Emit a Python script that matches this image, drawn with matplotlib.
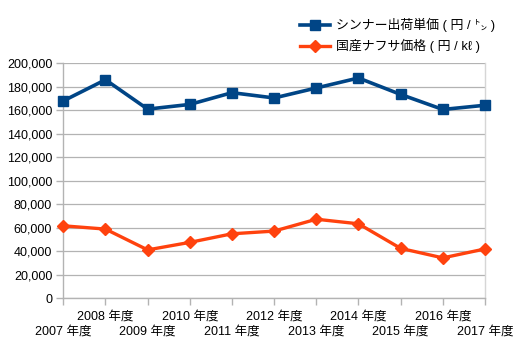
import matplotlib
matplotlib.use("Agg")
import matplotlib.pyplot as plt
from matplotlib.ticker import FuncFormatter

FONTS = ["Liberation Sans", "Noto Sans CJK JP", "DejaVu Sans"]
plt.rcParams["font.family"] = FONTS

BLUE = "#004586"
ORANGE = "#ff420e"
GRID = "#b3b3b3"

YEARS = [2007, 2008, 2009, 2010, 2011, 2012, 2013, 2014, 2015, 2016, 2017]
THINNER = [168000, 186000, 161000, 165000, 175000, 170500, 179000, 187500, 173500, 160700, 164300]
NAPHTHA = [61700, 58900, 41200, 47600, 54900, 57200, 67300, 63400, 42500, 34400, 42000]

LABEL_THINNER = "シンナー出荷単価 ( 円 / ㌧ )"
LABEL_NAPHTHA = "国産ナフサ価格 ( 円 / kℓ )"

fig = plt.figure(figsize=(5.23, 3.46), dpi=100)
ax = fig.add_axes([63.3 / 523, 1 - 298.3 / 346, (485 - 63.3) / 523, (298.3 - 63.3) / 346])

x = list(range(len(YEARS)))
ax.plot(x, THINNER, color=BLUE, lw=2.6, marker="s", ms=7.2, clip_on=False,
        zorder=4, label=LABEL_THINNER)
ax.plot(x, NAPHTHA, color=ORANGE, lw=2.4, marker="D", ms=6, clip_on=False,
        zorder=4, label=LABEL_NAPHTHA)

ax.set_xlim(0, len(YEARS) - 1)
ax.set_ylim(0, 200000)
ax.set_yticks(range(0, 200001, 20000))
ax.yaxis.set_major_formatter(FuncFormatter(lambda v, p: f"{int(v):,}"))

# staggered category labels: odd positions on the upper row (major ticks),
# even positions on the lower row (minor ticks with a larger pad)
upper = [i for i in x if i % 2]
lower = [i for i in x if not i % 2]
ax.set_xticks(upper)
ax.set_xticklabels([f"{YEARS[i]} 年度" for i in upper])
ax.set_xticks(lower, minor=True)
ax.set_xticklabels([f"{YEARS[i]} 年度" for i in lower], minor=True)

ax.grid(axis="y", color=GRID, lw=0.9, zorder=0)
for side in ("left", "bottom"):
    ax.spines[side].set_color(GRID)
    ax.spines[side].set_linewidth(1.0)
ax.spines["top"].set_visible(False)
ax.spines["right"].set_color("#d6d6d6")
ax.spines["right"].set_linewidth(1.0)
ax.tick_params(axis="both", which="both", color=GRID, width=1.0, labelsize=9,
               labelcolor="black")
ax.tick_params(axis="y", length=5, pad=3)
ax.tick_params(axis="x", which="major", length=5, pad=4)
ax.tick_params(axis="x", which="minor", length=5, pad=15)

fig.legend(loc="upper left", bbox_to_anchor=(300 / 523, 1 - 18 / 346),
           frameon=False, fontsize=9.3, handlelength=2.3, handletextpad=0.5,
           labelspacing=0.55, borderaxespad=0, borderpad=0)

fig.savefig("out.png", dpi=100)
